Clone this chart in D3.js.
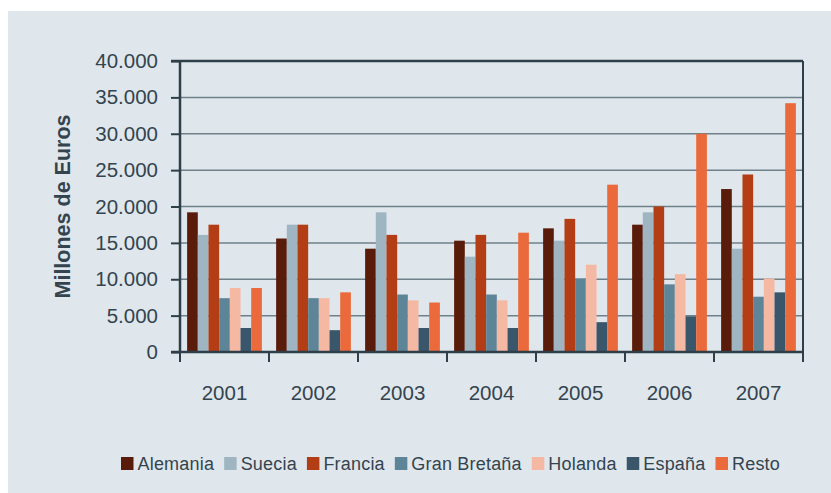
<!DOCTYPE html>
<html>
<head>
<meta charset="utf-8">
<script src="https://cdn.jsdelivr.net/npm/d3@7"></script>
<style>
  body { margin: 0; background: #fff; }
  text { font-family: "Liberation Sans", Arial, sans-serif; }
</style>
</head>
<body>
<div id="chart"></div>
<script>
// Datos (millones de euros)
const years = ["2001", "2002", "2003", "2004", "2005", "2006", "2007"];
const series = ["Alemania", "Suecia", "Francia", "Gran Bretaña", "Holanda", "España", "Resto"];
const colors = ["#5a1c0a", "#9fb6c2", "#b33d14", "#5e8597", "#f5b8a3", "#3a566b", "#ea6a3b"];

const alemania = [19200, 15600, 14200, 15300, 17000, 17500, 22400];
const suecia = [16100, 17500, 19200, 13100, 15300, 19200, 14200];
const francia = [17500, 17500, 16100, 16100, 18300, 20000, 24400];
const granBretana = [7400, 7400, 7900, 7900, 10100, 9300, 7600];
const holanda = [8800, 7400, 7100, 7100, 12000, 10700, 10100];
const espana = [3300, 3000, 3300, 3300, 4100, 4900, 8200];
const resto = [8800, 8200, 6800, 16400, 23000, 30000, 34200];

const yTicks = [0, 5000, 10000, 15000, 20000, 25000, 30000, 35000, 40000];
const yTickLabels = ["0", "5.000", "10.000", "15.000", "20.000", "25.000", "30.000", "35.000", "40.000"];

const allValues = [alemania, suecia, francia, granBretana, holanda, espana, resto];

const W = 831, H = 493;
const margin = { top: 61, right: 28, bottom: 141, left: 180 };
const width = W - margin.left - margin.right,
    height = H - margin.top - margin.bottom;

const svg = d3.select("#chart").append("svg")
    .attr("width", W)
    .attr("height", H);

// panel de fondo
svg.append("rect")
    .attr("x", 8).attr("y", 11)
    .attr("width", W - 8).attr("height", H - 11)
    .attr("fill", "#dfe7ed");

const g = svg.append("g")
    .attr("transform", `translate(${margin.left}, ${margin.top})`);

const x0 = d3.scaleBand().domain(years).range([0, width]).padding(0);
const gap = x0.step() * 0.08;
const x1 = d3.scaleBand().domain(series).range([gap, x0.step() - gap]).padding(0);
const y = d3.scaleLinear().domain([0, 40000]).range([height, 0]);

const textColor = "#34444f";
const axisColor = "#2e3f4a";

// lineas de cuadricula
g.selectAll(".grid")
    .data(yTicks.slice(1, -1))
    .enter().append("line")
    .attr("x1", 0).attr("x2", width)
    .attr("y1", d => y(d)).attr("y2", d => y(d))
    .attr("stroke", "#6f808a")
    .attr("stroke-width", 1.5);

// eje Y
g.append("g")
    .call(d3.axisLeft(y).tickValues(yTicks).tickSize(9).tickPadding(13)
        .tickFormat((d, i) => yTickLabels[i]))
    .call(a => a.select(".domain").remove())
    .call(a => a.selectAll(".tick line").attr("stroke", axisColor).attr("stroke-width", 2))
    .call(a => a.selectAll("text")
        .attr("fill", textColor)
        .style("font-size", "20.5px"));

// barras
const groups = g.selectAll(".year")
    .data(years)
    .enter().append("g")
    .attr("transform", d => `translate(${x0(d)},0)`);

groups.selectAll("rect")
    .data((d, i) => series.map((s, j) => ({ s, j, v: allValues[j][i] })))
    .enter().append("rect")
    .attr("x", d => x1(d.s))
    .attr("width", x1.bandwidth())
    .attr("y", d => y(d.v))
    .attr("height", d => y(0) - y(d.v))
    .attr("fill", d => colors[d.j]);

// marco
g.append("line").attr("x1", -9).attr("x2", width).attr("y1", 0).attr("y2", 0)
    .attr("stroke", axisColor).attr("stroke-width", 2.5);
g.append("line").attr("x1", width).attr("x2", width).attr("y1", 0).attr("y2", height)
    .attr("stroke", axisColor).attr("stroke-width", 2);
g.append("line").attr("x1", 0).attr("x2", 0).attr("y1", 0).attr("y2", height)
    .attr("stroke", axisColor).attr("stroke-width", 2.5);

// eje X
const boundaries = years.map(d => x0(d)).concat([width]);
g.selectAll(".xtick")
    .data(boundaries)
    .enter().append("line")
    .attr("x1", d => d).attr("x2", d => d)
    .attr("y1", height).attr("y2", height + 10)
    .attr("stroke", axisColor).attr("stroke-width", 2);

g.append("line").attr("x1", -9).attr("x2", width).attr("y1", height).attr("y2", height)
    .attr("stroke", axisColor).attr("stroke-width", 2.5);

g.selectAll(".xlabel")
    .data(years)
    .enter().append("text")
    .attr("x", d => x0(d) + x0.bandwidth() / 2)
    .attr("y", height + 48)
    .attr("text-anchor", "middle")
    .attr("fill", textColor)
    .style("font-size", "20.5px")
    .text(d => d);

// titulo eje Y
svg.append("text")
    .attr("transform", "translate(69.5, 206.5) rotate(-90)")
    .attr("text-anchor", "middle")
    .attr("fill", textColor)
    .style("font-size", "21.5px")
    .style("font-weight", "bold")
    .text("Millones de Euros");

// leyenda
const legend = svg.append("g").attr("transform", "translate(121, 457)");
let lx = 0;
series.forEach((s, i) => {
    legend.append("rect")
        .attr("x", lx).attr("y", 0)
        .attr("width", 12.5).attr("height", 13)
        .attr("fill", colors[i]);
    const t = legend.append("text")
        .attr("x", lx + 16.5)
        .attr("y", 13)
        .attr("fill", textColor)
        .style("font-size", "18px")
        .style("letter-spacing", "0.2px")
        .text(s);
    lx += 16.5 + t.node().getComputedTextLength() + 10;
});
</script>
</body>
</html>
